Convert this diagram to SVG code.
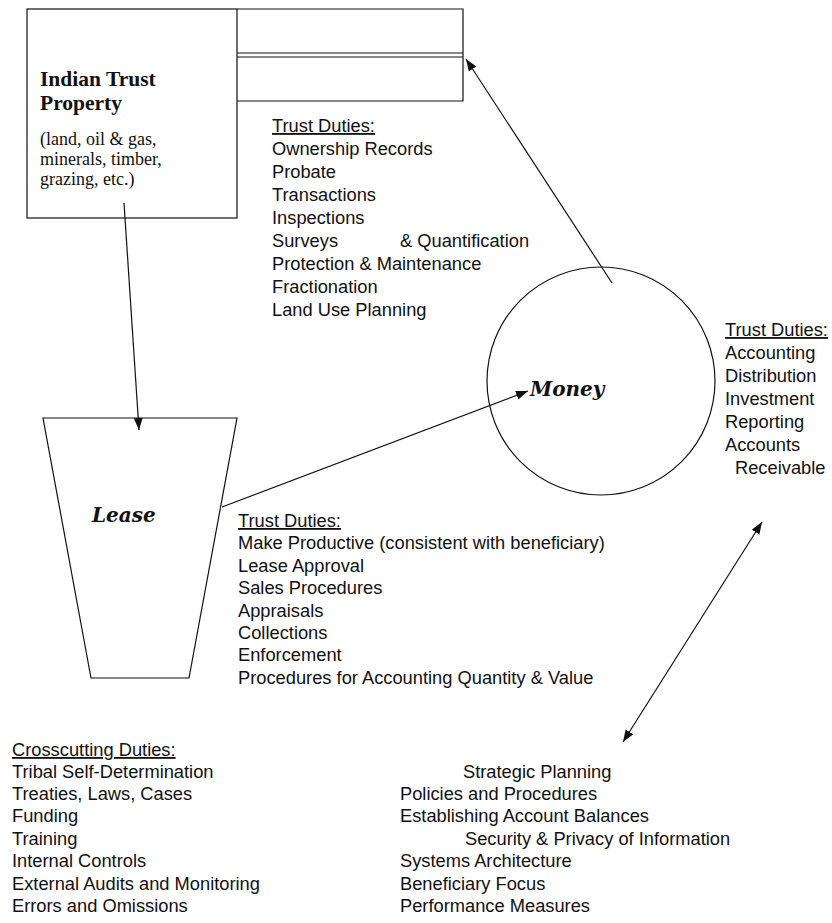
<svg xmlns="http://www.w3.org/2000/svg" width="832" height="923" viewBox="0 0 832 923">
<style>
.ln{fill:none;stroke:#111;stroke-width:1.2}
.sans{font-family:"Liberation Sans",Arial,sans-serif;font-size:18.3px;fill:#111}
.ser{font-family:"Liberation Serif","Times New Roman",serif;fill:#111}
.bi{font-family:"DejaVu Serif",serif;font-weight:bold;font-style:italic;font-size:20px;fill:#111}
.u{text-decoration:underline}
</style>
<defs>
<marker id="ah" markerUnits="userSpaceOnUse" markerWidth="13" markerHeight="10" refX="12" refY="4.5" orient="auto-start-reverse">
<path d="M0,0 L12,4.5 L0,9 z" fill="#111"/>
</marker>
</defs>
<rect width="832" height="923" fill="#fff"/>

<g id="property">
<rect class="ln" x="27" y="9" width="210" height="209"/>
<text class="ser" x="40" y="86" font-size="21.5" font-weight="bold">Indian Trust</text>
<text class="ser" x="40" y="110" font-size="21.5" font-weight="bold">Property</text>
<text class="ser" x="40" y="145" font-size="18">(land, oil &amp; gas,</text>
<text class="ser" x="40" y="165" font-size="18">minerals, timber,</text>
<text class="ser" x="40" y="185" font-size="18">grazing, etc.)</text>
</g>

<g id="records">
<path class="ln" d="M237,9 H463 V101 H237 M237,53 H463 M237,57 H463"/>
</g>

<g id="property-duties" class="sans">
<text x="272" y="132" class="u">Trust Duties:</text>
<text x="272" y="155">Ownership Records</text>
<text x="272" y="178">Probate</text>
<text x="272" y="201">Transactions</text>
<text x="272" y="224">Inspections</text>
<text x="272" y="247">Surveys</text>
<text x="400" y="247">&amp; Quantification</text>
<text x="272" y="270">Protection &amp; Maintenance</text>
<text x="272" y="293">Fractionation</text>
<text x="272" y="316">Land Use Planning</text>
</g>

<g id="money">
<circle class="ln" cx="601" cy="381" r="114"/>
<text class="bi" x="530" y="396">Money</text>
</g>

<g id="money-duties" class="sans">
<text x="725" y="336" class="u">Trust Duties:</text>
<text x="725" y="359">Accounting</text>
<text x="725" y="382">Distribution</text>
<text x="725" y="405">Investment</text>
<text x="725" y="428">Reporting</text>
<text x="725" y="451">Accounts</text>
<text x="735" y="474">Receivable</text>
</g>

<g id="lease">
<path class="ln" d="M43,418 H237 L189,678 H91 Z"/>
<text class="bi" x="92" y="522">Lease</text>
</g>

<g id="lease-duties" class="sans">
<text x="238" y="527" class="u">Trust Duties:</text>
<text x="238" y="549">Make Productive (consistent with beneficiary)</text>
<text x="238" y="572">Lease Approval</text>
<text x="238" y="594">Sales Procedures</text>
<text x="238" y="617">Appraisals</text>
<text x="238" y="639">Collections</text>
<text x="238" y="661">Enforcement</text>
<text x="238" y="684">Procedures for Accounting Quantity &amp; Value</text>
</g>

<g id="crosscutting" class="sans">
<text x="12" y="756" class="u">Crosscutting Duties:</text>
<text x="12" y="778">Tribal Self-Determination</text>
<text x="12" y="800">Treaties, Laws, Cases</text>
<text x="12" y="822">Funding</text>
<text x="12" y="845">Training</text>
<text x="12" y="867">Internal Controls</text>
<text x="12" y="890">External Audits and Monitoring</text>
<text x="12" y="912">Errors and Omissions</text>
</g>

<g id="systems" class="sans">
<text x="463" y="778">Strategic Planning</text>
<text x="400" y="800">Policies and Procedures</text>
<text x="400" y="822">Establishing Account Balances</text>
<text x="465" y="845">Security &amp; Privacy of Information</text>
<text x="400" y="867">Systems Architecture</text>
<text x="400" y="890">Beneficiary Focus</text>
<text x="400" y="912">Performance Measures</text>
</g>

<g id="connectors">
<line class="ln" x1="124" y1="203" x2="139" y2="430" marker-end="url(#ah)"/>
<line class="ln" x1="222" y1="507" x2="528" y2="391" marker-end="url(#ah)"/>
<line class="ln" x1="612" y1="283" x2="466" y2="59" marker-end="url(#ah)"/>
<line class="ln" x1="762" y1="522" x2="623" y2="742" marker-start="url(#ah)" marker-end="url(#ah)"/>
</g>
</svg>
